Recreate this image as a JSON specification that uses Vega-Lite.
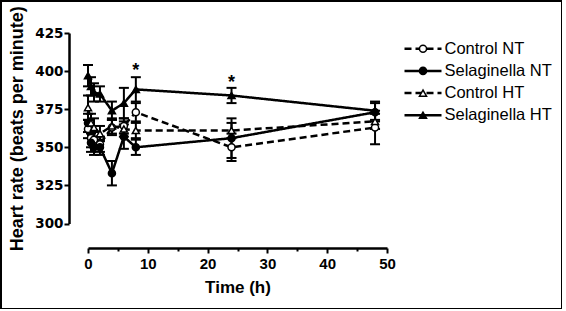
{
  "$schema": "https://vega.github.io/schema/vega-lite/v6.json",
  "width": 561,
  "height": 308,
  "autosize": "none",
  "padding": {"left": 1, "top": 1, "right": 0, "bottom": 0},
  "background": "white",
  "config": {"view": {"stroke": "black", "strokeWidth": 2}, "font": "Liberation Sans"},
  "datasets": {
    "hr": [
      {"g": "Control NT", "t": 0, "hr": 362, "lo": 356, "hi": 368},
      {"g": "Control NT", "t": 0.5, "hr": 356, "lo": 350, "hi": 362},
      {"g": "Control NT", "t": 1, "hr": 355, "lo": 350, "hi": 360},
      {"g": "Control NT", "t": 2, "hr": 352, "lo": 347, "hi": 357},
      {"g": "Control NT", "t": 4, "hr": 363, "lo": 358, "hi": 368},
      {"g": "Control NT", "t": 6, "hr": 364, "lo": 359, "hi": 369},
      {"g": "Control NT", "t": 8, "hr": 373, "lo": 367, "hi": 379},
      {"g": "Control NT", "t": 24, "hr": 350, "lo": 341, "hi": 359},
      {"g": "Control NT", "t": 48, "hr": 363, "lo": 352, "hi": 374},
      {"g": "Selaginella NT", "t": 0, "hr": 366, "lo": 360, "hi": 372},
      {"g": "Selaginella NT", "t": 0.5, "hr": 353, "lo": 347, "hi": 359},
      {"g": "Selaginella NT", "t": 1, "hr": 350, "lo": 345, "hi": 355},
      {"g": "Selaginella NT", "t": 2, "hr": 350, "lo": 345, "hi": 355},
      {"g": "Selaginella NT", "t": 4, "hr": 333, "lo": 325, "hi": 341},
      {"g": "Selaginella NT", "t": 6, "hr": 357, "lo": 349, "hi": 365},
      {"g": "Selaginella NT", "t": 8, "hr": 350, "lo": 345, "hi": 355},
      {"g": "Selaginella NT", "t": 24, "hr": 356, "lo": 343, "hi": 369},
      {"g": "Selaginella NT", "t": 48, "hr": 373, "lo": 367, "hi": 379},
      {"g": "Control HT", "t": 0, "hr": 376, "lo": 368, "hi": 384},
      {"g": "Control HT", "t": 0.5, "hr": 366, "lo": 360, "hi": 372},
      {"g": "Control HT", "t": 1, "hr": 363, "lo": 357, "hi": 369},
      {"g": "Control HT", "t": 2, "hr": 359, "lo": 354, "hi": 364},
      {"g": "Control HT", "t": 4, "hr": 364, "lo": 359, "hi": 369},
      {"g": "Control HT", "t": 6, "hr": 362, "lo": 357, "hi": 367},
      {"g": "Control HT", "t": 8, "hr": 361, "lo": 356, "hi": 366},
      {"g": "Control HT", "t": 24, "hr": 361, "lo": 356, "hi": 366},
      {"g": "Control HT", "t": 48, "hr": 367, "lo": 362, "hi": 372},
      {"g": "Selaginella HT", "t": 0, "hr": 397, "lo": 390, "hi": 404},
      {"g": "Selaginella HT", "t": 0.5, "hr": 390, "lo": 384, "hi": 396},
      {"g": "Selaginella HT", "t": 1, "hr": 386, "lo": 380, "hi": 392},
      {"g": "Selaginella HT", "t": 2, "hr": 385, "lo": 380, "hi": 390},
      {"g": "Selaginella HT", "t": 4, "hr": 374, "lo": 368, "hi": 380},
      {"g": "Selaginella HT", "t": 6, "hr": 379, "lo": 369, "hi": 389},
      {"g": "Selaginella HT", "t": 8, "hr": 388, "lo": 380, "hi": 396},
      {"g": "Selaginella HT", "t": 24, "hr": 384, "lo": 379, "hi": 389},
      {"g": "Selaginella HT", "t": 48, "hr": 374, "lo": 368, "hi": 380}
    ],
    "stars": [
      {"t": 8, "y": 400, "s": "*"},
      {"t": 24, "y": 392, "s": "*"}
    ],
    "legend": [
      {"g": "Control NT"},
      {"g": "Selaginella NT"},
      {"g": "Control HT"},
      {"g": "Selaginella HT"}
    ]
  },
  "resolve": {"scale": {"x": "independent", "y": "independent"}, "axis": {"x": "independent", "y": "independent"}},
  "layer": [
    {
      "data": {"name": "hr"},
      "encoding": {
        "x": {
          "field": "t", "type": "quantitative", "title": "Time (h)",
          "scale": {"domain": [0, 50], "range": [87, 386], "nice": false, "zero": false}
        }
      },
      "layer": [
        {
          "mark": {"type": "line", "stroke": "black", "strokeWidth": 2.5},
          "encoding": {
            "x": {
              "field": "t", "type": "quantitative", "title": "Time (h)",
              "scale": {"domain": [0, 50], "range": [87, 386], "nice": false, "zero": false},
              "axis": {
                "values": [0, 5, 10, 15, 20, 25, 30, 35, 40, 45, 50],
                "labelExpr": "datum.value % 10 === 0 ? datum.label : ''",
                "tickSize": {"condition": {"test": "datum.value % 10 === 0", "value": 5}, "value": 3},
                "offset": -61,
                "grid": false,
                "domainColor": "black", "domainWidth": 2.5,
                "tickColor": "black", "tickWidth": 2,
                "labelFont": "Liberation Sans", "labelFontWeight": "bold", "labelFontSize": 15,
                "labelColor": "black", "labelPadding": 3, "labelFlush": false, "labelOverlap": false,
                "title": "Time (h)",
                "titleFont": "Liberation Sans", "titleFontSize": 17, "titleFontWeight": "bold",
                "titleColor": "black", "titlePadding": 8
              }
            },
            "y": {
              "field": "hr", "type": "quantitative", "title": "Heart rate (beats per minute)",
              "scale": {"domain": [300, 425], "range": [222.5, 32], "nice": false, "zero": false},
              "axis": {
                "values": [300, 325, 350, 375, 400, 425],
                "offset": -68,
                "grid": false,
                "domainColor": "black", "domainWidth": 2.5,
                "tickColor": "black", "tickWidth": 2, "tickSize": 5,
                "labelFont": "DejaVu Sans", "labelFontWeight": "bold", "labelFontSize": 13.5,
                "labelColor": "black", "labelPadding": 1, "labelFlush": false, "labelOverlap": false,
                "title": "Heart rate (beats per minute)",
                "titleFont": "Liberation Sans", "titleFontSize": 18, "titleFontWeight": "bold",
                "titleColor": "black", "titlePadding": 8
              }
            },
            "strokeDash": {
              "field": "g", "type": "nominal",
              "scale": {
                "domain": ["Control NT", "Selaginella NT", "Control HT", "Selaginella HT"],
                "range": [[7, 4], [1, 0], [7, 4], [1, 0]]
              },
              "legend": null
            }
          }
        },
        {
          "mark": {"type": "rule", "stroke": "black", "strokeWidth": 2},
          "encoding": {
            "y": {"field": "lo", "type": "quantitative", "title": "Heart rate (beats per minute)"},
            "y2": {"field": "hi"}
          }
        },
        {
          "mark": {"type": "tick", "orient": "horizontal", "color": "black", "size": 10, "thickness": 2, "opacity": 1},
          "encoding": {
            "y": {"field": "lo", "type": "quantitative", "title": "Heart rate (beats per minute)"}
          }
        },
        {
          "mark": {"type": "tick", "orient": "horizontal", "color": "black", "size": 10, "thickness": 2, "opacity": 1},
          "encoding": {
            "y": {"field": "hi", "type": "quantitative", "title": "Heart rate (beats per minute)"}
          }
        },
        {
          "mark": {"type": "point", "filled": true, "stroke": "black", "strokeWidth": 1.5, "size": 50, "opacity": 1},
          "encoding": {
            "y": {"field": "hr", "type": "quantitative", "title": "Heart rate (beats per minute)"},
            "shape": {
              "field": "g", "type": "nominal",
              "scale": {
                "domain": ["Control NT", "Selaginella NT", "Control HT", "Selaginella HT"],
                "range": ["circle", "circle", "triangle-up", "triangle-up"]
              },
              "legend": null
            },
            "fill": {
              "field": "g", "type": "nominal",
              "scale": {
                "domain": ["Control NT", "Selaginella NT", "Control HT", "Selaginella HT"],
                "range": ["white", "black", "white", "black"]
              },
              "legend": null
            }
          }
        },
        {
          "data": {"name": "stars"},
          "mark": {"type": "text", "font": "Liberation Sans", "fontSize": 18, "fontWeight": "bold", "color": "black", "baseline": "middle"},
          "encoding": {
            "y": {"field": "y", "type": "quantitative", "title": "Heart rate (beats per minute)"},
            "text": {"field": "s"}
          }
        }
      ]
    },
    {
      "data": {"name": "legend"},
      "encoding": {
        "y": {
          "field": "g", "type": "nominal", "axis": null,
          "scale": {"type": "point", "domain": ["Control NT", "Selaginella NT", "Control HT", "Selaginella HT"], "range": [47.7, 114.3], "padding": 0}
        }
      },
      "layer": [
        {
          "mark": {"type": "rule", "stroke": "black", "strokeWidth": 2.5},
          "encoding": {
            "x": {"datum": 0, "type": "quantitative", "axis": null, "scale": {"domain": [0, 1], "range": [403.5, 440.5], "nice": false, "zero": false}},
            "x2": {"datum": 1},
            "strokeDash": {
              "field": "g", "type": "nominal",
              "scale": {
                "domain": ["Control NT", "Selaginella NT", "Control HT", "Selaginella HT"],
                "range": [[5, 3.5], [1, 0], [5, 3.5], [1, 0]]
              },
              "legend": null
            }
          }
        },
        {
          "mark": {"type": "point", "filled": true, "stroke": "black", "strokeWidth": 1.5, "size": 50, "opacity": 1},
          "encoding": {
            "x": {"datum": 0.5, "type": "quantitative", "axis": null, "scale": {"domain": [0, 1], "range": [403.5, 440.5], "nice": false, "zero": false}},
            "shape": {"field": "g", "type": "nominal", "legend": null},
            "fill": {"field": "g", "type": "nominal", "legend": null}
          }
        },
        {
          "mark": {"type": "text", "align": "left", "baseline": "middle", "dx": 3, "font": "Liberation Sans", "fontSize": 16.5, "color": "black"},
          "encoding": {
            "x": {"datum": 1, "type": "quantitative", "axis": null, "scale": {"domain": [0, 1], "range": [403.5, 440.5], "nice": false, "zero": false}},
            "text": {"field": "g"}
          }
        }
      ]
    }
  ]
}
